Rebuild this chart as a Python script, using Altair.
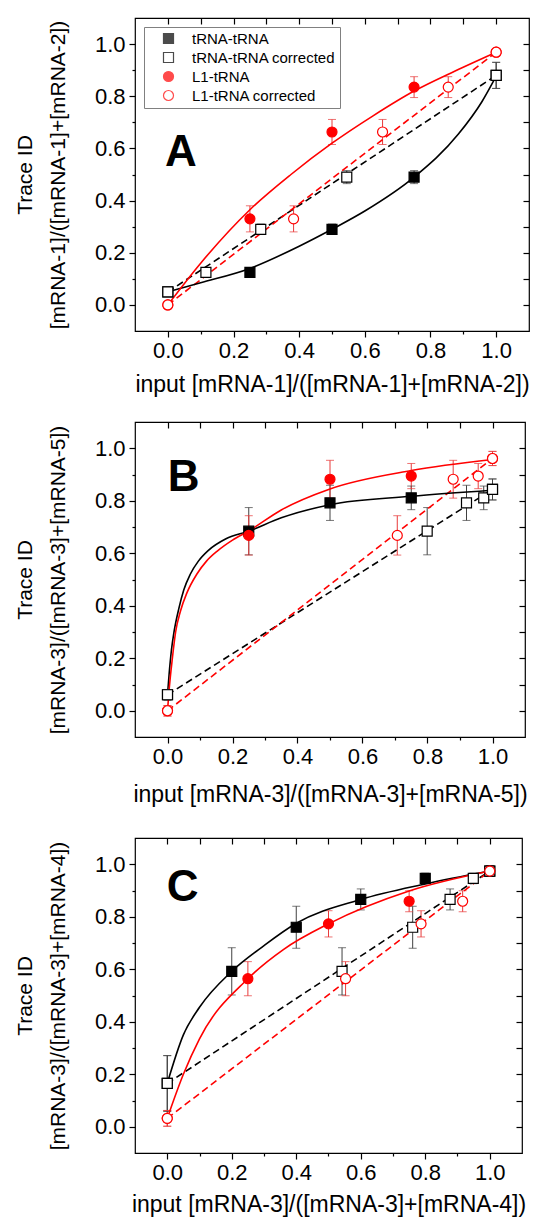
import altair as alt
import pandas as pd

FONT = "Liberation Sans"
SERIES = ["tRNA-tRNA", "tRNA-tRNA corrected", "L1-tRNA", "L1-tRNA corrected"]
SHAPES = ["square", "square", "circle", "circle"]
STROKES = ["#000000", "#000000", "#ff0000", "#ff0000"]
FILLS = ["#000000", "#ffffff", "#ff0000", "#ffffff"]
ERRCOL = {"tRNA-tRNA": "#404040", "tRNA-tRNA corrected": "#404040",
          "L1-tRNA": "#e83a3a", "L1-tRNA corrected": "#e83a3a"}
MAJOR = [0.0, 0.2, 0.4, 0.6, 0.8, 1.0]
MINOR = [0.1, 0.3, 0.5, 0.7, 0.9]
ALLT = [0.0, 0.1, 0.2, 0.3, 0.4, 0.5, 0.6, 0.7, 0.8, 0.9, 1.0]

# ---------------- Panel A ----------------
A_trna_x = [0.0, 0.25, 0.5, 0.75, 1.0]
A_trna_y = [0.05, 0.125, 0.29, 0.49, 0.88]
A_trna_err = [0.015, 0.012, 0.02, 0.025, 0.05]
A_trnac_x = [0.0, 0.116, 0.283, 0.545, 1.0]
A_l1_x = [0.0, 0.25, 0.5, 0.75, 1.0]
A_l1_y = [0.0, 0.33, 0.663, 0.835, 0.969]
A_l1_err = [0.012, 0.05, 0.048, 0.04, 0.012]
A_l1c_x = [0.0, 0.383, 0.654, 0.854, 1.0]
A_fit_trna_x = [0.0, 0.1, 0.25, 0.4, 0.5, 0.6, 0.75, 0.885, 0.957, 1.0]
A_fit_trna_y = [0.05, 0.085, 0.14, 0.225, 0.29, 0.36, 0.49, 0.655, 0.78, 0.877]
A_fit_l1_x = [0.0, 0.1, 0.25, 0.375, 0.5, 0.625, 0.75, 0.875, 1.0]
A_fit_l1_y = [0.0, 0.16, 0.365, 0.50, 0.62, 0.725, 0.82, 0.897, 0.969]

# ---------------- Panel B ----------------
B_trna_x = [0.0, 0.25, 0.5, 0.75, 1.0]
B_trna_y = [0.061, 0.684, 0.792, 0.811, 0.843]
B_trna_err = [0.02, 0.09, 0.067, 0.045, 0.04]
B_trnac_x = [0.0, 0.799, 0.92, 0.973, 1.0]
B_l1_x = [0.0, 0.25, 0.5, 0.75, 1.0]
B_l1_y = [0.0, 0.668, 0.882, 0.894, 0.961]
B_l1_err = [0.02, 0.075, 0.072, 0.048, 0.027]
B_l1c_x = [0.0, 0.707, 0.879, 0.956, 1.0]
B_fit_trna_x = [0.0, 0.005, 0.012, 0.02, 0.035, 0.05, 0.07, 0.095, 0.125, 0.18, 0.25,
                0.35, 0.5, 0.75, 1.0]
B_fit_trna_y = [0.061, 0.14, 0.23, 0.30, 0.39, 0.46, 0.52, 0.57, 0.61, 0.655, 0.684,
                0.735, 0.785, 0.817, 0.84]
B_fit_l1_x = [0.0, 0.005, 0.015, 0.025, 0.04, 0.06, 0.09, 0.12, 0.155, 0.2, 0.25,
              0.35, 0.5, 0.75, 1.0]
B_fit_l1_y = [0.0, 0.08, 0.2, 0.3, 0.38, 0.45, 0.52, 0.57, 0.61, 0.65, 0.685,
              0.765, 0.845, 0.915, 0.957]

# ---------------- Panel C ----------------
C_trna_x = [0.0, 0.2, 0.4, 0.6, 0.8, 1.0]
C_trna_y = [0.165, 0.592, 0.76, 0.866, 0.946, 0.974]
C_trna_err = [0.106, 0.09, 0.08, 0.04, 0.02, 0.02]
C_trnac_x = [0.0, 0.542, 0.761, 0.877, 0.949, 1.0]
C_l1_x = [0.0, 0.25, 0.5, 0.75, 1.0]
C_l1_y = [0.032, 0.564, 0.773, 0.859, 0.974]
C_l1_err = [0.03, 0.065, 0.05, 0.04, 0.02]
C_l1c_x = [0.0, 0.553, 0.787, 0.916, 1.0]
C_fit_trna_x = [0.0, 0.05, 0.1, 0.2, 0.3, 0.4, 0.6, 0.8, 1.0]
C_fit_trna_y = [0.165, 0.35, 0.455, 0.592, 0.69, 0.775, 0.866, 0.925, 0.974]
C_fit_l1_x = [0.0, 0.05, 0.1, 0.25, 0.36, 0.5, 0.75, 1.0]
C_fit_l1_y = [0.032, 0.2, 0.335, 0.564, 0.675, 0.773, 0.898, 0.974]

XS = alt.Scale(domain=[-0.1, 1.1], nice=False, zero=False)
YS = alt.Scale(domain=[-0.1, 1.1], nice=False, zero=False)


def panel(letter, letter_xy, trna_x, trna_y, trna_err, trnac_x, l1_x, l1_y, l1_err,
          l1c_x, fit_trna, fit_l1, legend_xy, width, height, x_title, y_title, tpad):
    rows = []
    for name, xs, ys, es in [("tRNA-tRNA", trna_x, trna_y, trna_err),
                             ("L1-tRNA", l1_x, l1_y, l1_err),
                             ("tRNA-tRNA corrected", trnac_x, trna_y, trna_err),
                             ("L1-tRNA corrected", l1c_x, l1_y, l1_err)]:
        for xv, yv, ev in zip(xs, ys, es):
            rows.append({"x": xv, "y": yv, "lo": yv - ev, "hi": yv + ev,
                         "series": name, "ecol": ERRCOL[name]})
    pts = pd.DataFrame(rows)

    fit_rows = []
    for name, col, (fx, fy) in [("fit tRNA", "#000000", fit_trna), ("fit L1", "#ff0000", fit_l1)]:
        for xv, yv in zip(fx, fy):
            fit_rows.append({"x": xv, "y": yv, "grp": name, "col": col})
    fit = pd.DataFrame(fit_rows)

    dash_rows = []
    for name, col, xs, ys in [("dash tRNA", "#000000", trnac_x, trna_y),
                              ("dash L1", "#ff0000", l1c_x, l1_y)]:
        dash_rows.append({"x": xs[0], "y": ys[0], "grp": name, "col": col})
        dash_rows.append({"x": xs[-1], "y": ys[-1], "grp": name, "col": col})
    dash = pd.DataFrame(dash_rows)

    lab = pd.DataFrame({"x": [letter_xy[0]], "y": [letter_xy[1]], "t": [letter]})

    base_ax = dict(grid=False, domain=False, tickColor="black", labelColor="black",
                   titleColor="black", labelFont=FONT, titleFont=FONT,
                   titleFontWeight="normal", tickWidth=1.2)

    main_axes = alt.Chart(dash).mark_point(opacity=0).encode(
        x=alt.X("x:Q", scale=XS, axis=alt.Axis(
            values=MAJOR, format=".1f", title=x_title, tickSize=6, labelFontSize=22,
            titleFontSize=23, labelPadding=3, titlePadding=tpad, labelFlush=False,
            orient="bottom", **base_ax)),
        y=alt.Y("y:Q", scale=YS, axis=alt.Axis(
            values=MAJOR, format=".1f", title=y_title, tickSize=6, labelFontSize=22,
            titleFontSize=21, labelPadding=4, titlePadding=26, titleLineHeight=33,
            labelFlush=False, orient="left", **base_ax)),
    )
    minor_axes = alt.Chart(dash).mark_point(opacity=0).encode(
        x=alt.X("x:Q", scale=XS, axis=alt.Axis(
            values=MINOR, tickSize=3, labels=False, title=None, orient="bottom", **base_ax)),
        y=alt.Y("y:Q", scale=YS, axis=alt.Axis(
            values=MINOR, tickSize=3, labels=False, title=None, orient="left", **base_ax)),
    )
    inner_axes = alt.Chart(dash).mark_point(opacity=0).encode(
        x=alt.X("x:Q", scale=XS, axis=alt.Axis(
            values=ALLT, tickSize=6, labels=False, title=None, orient="bottom",
            offset=-height, **base_ax)),
        y=alt.Y("y:Q", scale=YS, axis=alt.Axis(
            values=ALLT, tickSize=6, labels=False, title=None, orient="left",
            offset=-width, **base_ax)),
    )

    X = alt.X("x:Q", scale=XS, axis=None)
    Y = alt.Y("y:Q", scale=YS, axis=None)

    ebar = alt.Chart(pts).mark_rule(strokeWidth=1).encode(
        x=X, y=alt.Y("lo:Q", scale=YS, axis=None), y2="hi:Q",
        stroke=alt.Stroke("ecol:N", scale=None))
    cap_lo = alt.Chart(pts).mark_point(shape="M-1,0H1", size=64, strokeWidth=1, filled=False).encode(
        x=X, y=alt.Y("lo:Q", scale=YS, axis=None), stroke=alt.Stroke("ecol:N", scale=None))
    cap_hi = alt.Chart(pts).mark_point(shape="M-1,0H1", size=64, strokeWidth=1, filled=False).encode(
        x=X, y=alt.Y("hi:Q", scale=YS, axis=None), stroke=alt.Stroke("ecol:N", scale=None))

    dash_l = alt.Chart(dash).mark_line(strokeDash=[7, 4], strokeWidth=1.6).encode(
        x=X, y=Y, detail="grp:N", stroke=alt.Stroke("col:N", scale=None))
    fit_l = alt.Chart(fit).mark_line(interpolate="monotone", strokeWidth=1.6).encode(
        x=X, y=Y, detail="grp:N", stroke=alt.Stroke("col:N", scale=None))

    leg = alt.Legend(title=None, orient="none", legendX=legend_xy[0], legendY=legend_xy[1],
                     strokeColor="#808080", fillColor="white", padding=4,
                     labelFontSize=15, labelFont=FONT, labelColor="black",
                     symbolSize=100, symbolStrokeWidth=1.2, symbolOffset=13,
                     symbolOpacity=1, labelOffset=16, rowPadding=3)
    points = alt.Chart(pts).mark_point(size=100, strokeWidth=1.2, opacity=1).encode(
        x=X, y=Y,
        shape=alt.Shape("series:N", scale=alt.Scale(domain=SERIES, range=SHAPES), legend=leg),
        fill=alt.Fill("series:N", scale=alt.Scale(domain=SERIES, range=FILLS), legend=leg),
        stroke=alt.Stroke("series:N", scale=alt.Scale(domain=SERIES, range=STROKES), legend=leg),
    )

    text = alt.Chart(lab).mark_text(fontSize=44, fontWeight="bold", font=FONT,
                                    align="center", baseline="middle", color="black").encode(
        x=X, y=Y, text="t:N")

    return alt.layer(main_axes, minor_axes, inner_axes, ebar, cap_lo, cap_hi,
                     dash_l, fit_l, points, text).resolve_axis(
        x="independent", y="independent").properties(width=width, height=height)


A = panel("A", (0.04, 0.583), A_trna_x, A_trna_y, A_trna_err, A_trnac_x, A_l1_x, A_l1_y,
          A_l1_err, A_l1c_x, (A_fit_trna_x, A_fit_trna_y), (A_fit_l1_x, A_fit_l1_y),
          (9, 9), 394, 313, "input [mRNA-1]/([mRNA-1]+[mRNA-2])",
          ["Trace ID", "[mRNA-1]/([mRNA-1]+[mRNA-2])"], 12)
B = panel("B", (0.05, 0.886), B_trna_x, B_trna_y, B_trna_err, B_trnac_x, B_l1_x, B_l1_y,
          B_l1_err, B_l1c_x, (B_fit_trna_x, B_fit_trna_y), (B_fit_l1_x, B_fit_l1_y),
          (170, 209), 390, 315, "input [mRNA-3]/([mRNA-3]+[mRNA-5])",
          ["Trace ID", "[mRNA-3]/([mRNA-3]+[mRNA-5])"], 16)
C = panel("C", (0.048, 0.91), C_trna_x, C_trna_y, C_trna_err, C_trnac_x, C_l1_x, C_l1_y,
          C_l1_err, C_l1c_x, (C_fit_trna_x, C_fit_trna_y), (C_fit_l1_x, C_fit_l1_y),
          (179, 219), 387, 315, "input [mRNA-3]/([mRNA-3]+[mRNA-4])",
          ["Trace ID", "[mRNA-3]/([mRNA-3]+[mRNA-4])"], 10)

chart = alt.vconcat(alt.vconcat(A, B, spacing=23), C, spacing=29).properties(
    padding={"left": 5, "top": 8, "right": 0, "bottom": 0},
    background="white",
).configure_view(stroke="black", strokeWidth=1.2)

chart.save("out.html", embed_options={"renderer": "svg", "actions": False})
